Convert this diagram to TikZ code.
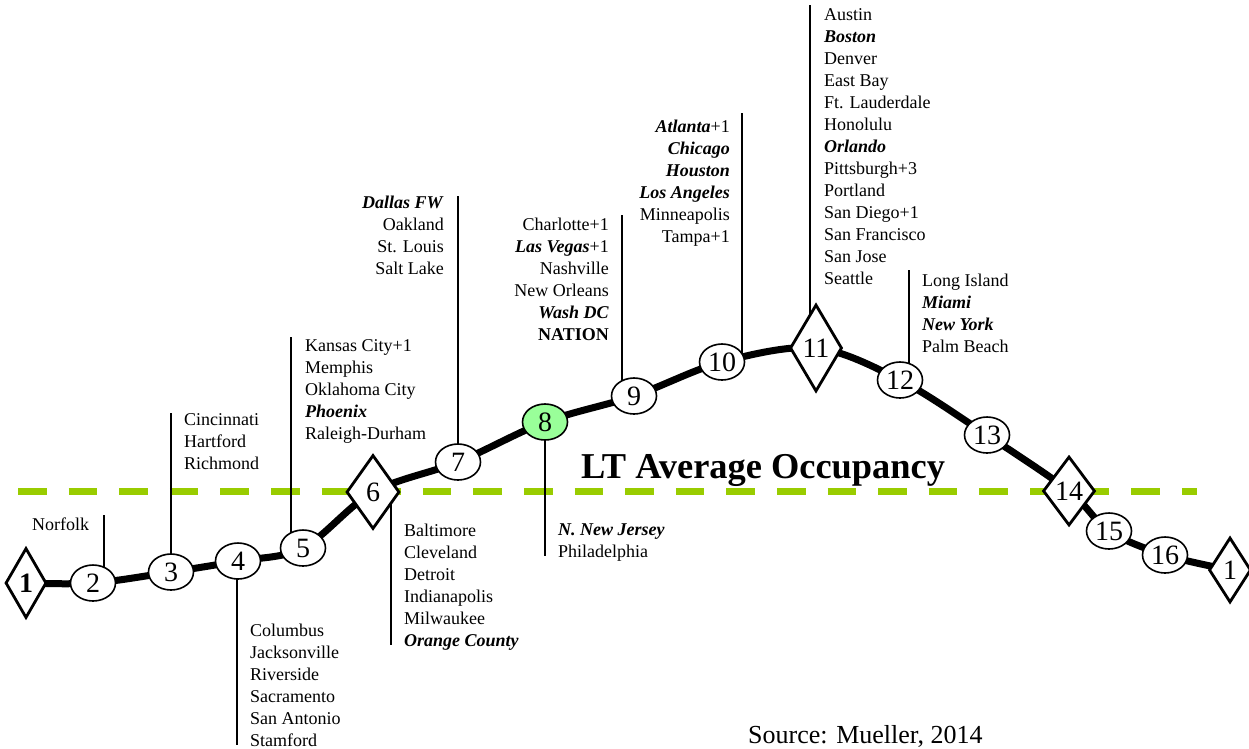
\documentclass[tikz,border=0pt]{standalone}
\usepackage{fontspec}
\setmainfont{Liberation Serif}
\usetikzlibrary{shapes.geometric,backgrounds}
\definecolor{avggreen}{RGB}{153,204,0}
\definecolor{hilite}{RGB}{153,255,153}
\newcommand{\bi}[1]{\textbf{\textit{#1}}}

\begin{document}
\begin{tikzpicture}[x=1pt,y=-1pt,
  stop/.style={ellipse, draw, line width=1.6pt, fill=white, minimum width=45pt,
    minimum height=36pt, inner sep=0pt, font=\fontsize{28}{28}\selectfont},
  hub/.style={diamond, draw, line width=2.8pt, fill=white, inner sep=0pt,
    font=\fontsize{28}{28}\selectfont},
  route/.style={line width=7pt, line join=round},
  leader/.style={line width=1.2pt},
  avg/.style={avggreen, line width=7pt, dash pattern=on 28.5pt off 22.1pt},
  citiesL/.style={inner sep=0pt, anchor=north west, align=left, yshift=15.4pt,
    font=\fontsize{18}{22}\selectfont, execute at begin node=\strut},
  citiesR/.style={citiesL, anchor=north east, align=right},
]
\useasboundingbox (0,0) rectangle (1249,748);

% stations along the occupancy curve
\node[hub, minimum width=41pt, minimum height=70pt, font=\fontsize{28}{28}\selectfont\bfseries] (d1) at (26,583) {1};
\node[stop] (e2) at (93,583) {2};
\node[stop] (e3) at (171,572) {3};
\node[stop] (e4) at (238,561) {4};
\node[stop] (e5) at (303,548) {5};
\node[hub, minimum width=53pt, minimum height=74pt] (d6) at (373,492) {6};
\node[stop] (e7) at (458,462) {7};
\node[stop, fill=hilite] (e8) at (545,422) {8};
\node[stop] (e9) at (634,396) {9};
\node[stop] (e10) at (722,362) {10};
\node[hub, minimum width=52pt, minimum height=87pt] (d11) at (816,348) {11};
\node[stop] (e12) at (900,380) {12};
\node[stop] (e13) at (987,435) {13};
\node[hub, minimum width=52pt, minimum height=69pt] (d14) at (1069,491) {14};
\node[stop] (e15) at (1109,531) {15};
\node[stop] (e16) at (1165,555) {16};
\node[hub, minimum width=42pt, minimum height=65pt] (d1r) at (1230,570) {1};

% leader line ends
\coordinate (t2) at (104,515);
\coordinate (t3) at (171,413);
\coordinate (b4) at (237,745);
\coordinate (t5) at (291,337);
\coordinate (b6) at (391,645);
\coordinate (t7) at (458,196);
\coordinate (b8) at (545,556);
\coordinate (t9) at (622,215);
\coordinate (t10) at (742,113);
\coordinate (t11) at (810,5);
\coordinate (t12) at (909,270);

% average line ends
\coordinate (avgL) at (18,491.5);
\coordinate (avgR) at (1197,491.5);

\begin{pgfonlayer}{background}
  \draw[avg] (avgL) -- (avgR);
  \draw[route] plot[smooth, tension=0.55] coordinates {(d1) (e2) (e3) (e4) (e5) (d6) (e7) (e8) (e9) (e10) (d11) (e12) (e13) (d14) (e15) (e16) (d1r)};
  \draw[leader] (t2) -- (t2 |- e2);
  \draw[leader] (t3) -- (t3 |- e3);
  \draw[leader] (b4 |- e4) -- (b4);
  \draw[leader] (t5) -- (t5 |- e5);
  \draw[leader] (b6 |- d6) -- (b6);
  \draw[leader] (t7) -- (t7 |- e7);
  \draw[leader] (b8 |- e8) -- (b8);
  \draw[leader] (t9) -- (t9 |- e9);
  \draw[leader] (t10) -- (t10 |- e10);
  \draw[leader] (t11) -- (t11 |- d11);
  \draw[leader] (t12) -- (t12 |- e12);
\end{pgfonlayer}

% city lists
\node[citiesL] (c2) at (32,530) {Norfolk};
\node[citiesL] (c3) at (184,429) {Cincinnati\\Hartford\\Richmond};
\node[citiesL] (c4) at (250,639) {Columbus\\Jacksonville\\Riverside\\Sacramento\\San Antonio\\Stamford};
\node[citiesL] (c5) at (305,355) {Kansas City+1\\Memphis\\Oklahoma City\\\bi{Phoenix}\\Raleigh-Durham};
\node[citiesL] (c6) at (404,539) {Baltimore\\Cleveland\\Detroit\\Indianapolis\\Milwaukee\\\bi{Orange County}};
\node[citiesR] (c7) at (444,211) {\bi{Dallas FW}\\Oakland\\St. Louis\\Salt Lake};
\node[citiesL] (c8) at (558,539) {\bi{N. New Jersey}\\Philadelphia};
\node[citiesR] (c9) at (609,233) {Charlotte+1\\\bi{Las Vegas}+1\\Nashville\\New Orleans\\\bi{Wash DC}\\\textbf{NATION}};
\node[citiesR] (c10) at (730,135) {\bi{Atlanta}+1\\\bi{Chicago}\\\bi{Houston}\\\bi{Los Angeles}\\Minneapolis\\Tampa+1};
\node[citiesL] (c11) at (824,24) {Austin\\\bi{Boston}\\Denver\\East Bay\\Ft. Lauderdale\\Honolulu\\\bi{Orlando}\\Pittsburgh+3\\Portland\\San Diego+1\\San Francisco\\San Jose\\Seattle};
\node[citiesL] (c12) at (922,289) {Long Island\\\bi{Miami}\\\bi{New York}\\Palm Beach};

% captions
\node[font=\fontsize{36.4}{36.4}\selectfont\bfseries, anchor=base, inner sep=0pt] (title) at (763,478) {LT Average Occupancy};
\node[font=\fontsize{26}{26}\selectfont, anchor=base west, inner sep=0pt] (src) at (748,743) {Source: Mueller, 2014};
\end{tikzpicture}
\end{document}
